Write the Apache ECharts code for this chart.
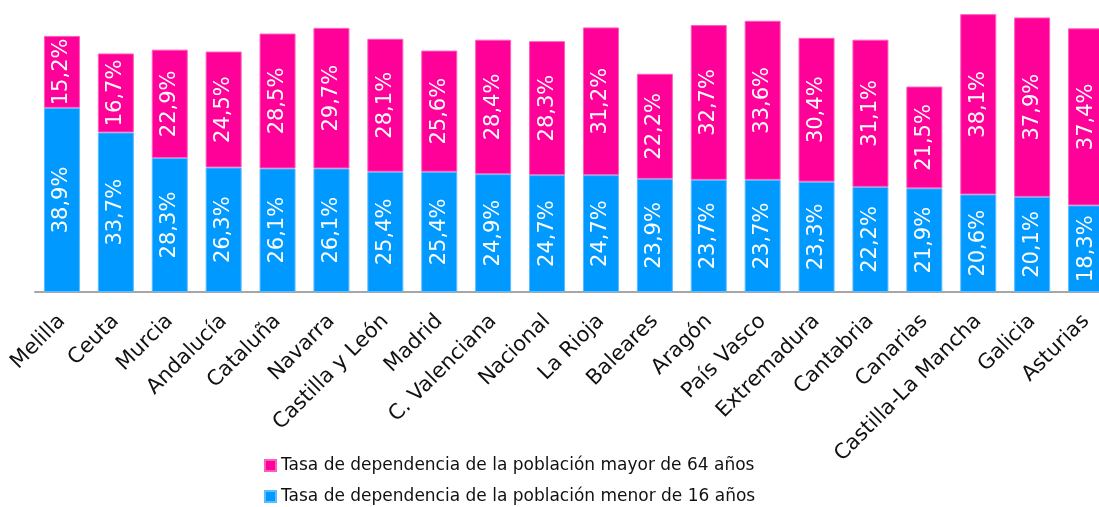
<!DOCTYPE html>
<html>
<head>
<meta charset="utf-8">
<script src="https://cdn.jsdelivr.net/npm/echarts@6/dist/echarts.min.js"></script>
<style>
  html, body { margin: 0; padding: 0; background: #fff; }
  #chart { width: 1099px; height: 507px; }
</style>
</head>
<body>
<div id="chart"></div>
<script>
const regiones = ['Melilla', 'Ceuta', 'Murcia', 'Andalucía', 'Cataluña', 'Navarra', 'Castilla y León', 'Madrid',
  'C. Valenciana', 'Nacional', 'La Rioja', 'Baleares', 'Aragón', 'País Vasco', 'Extremadura', 'Cantabria',
  'Canarias', 'Castilla-La Mancha', 'Galicia', 'Asturias']
const menor16 = [38.9, 33.7, 28.3, 26.3, 26.1, 26.1, 25.4, 25.4, 24.9, 24.7, 24.7, 23.9, 23.7, 23.7, 23.3, 22.2, 21.9, 20.6, 20.1, 18.3]
const mayor64 = [15.2, 16.7, 22.9, 24.5, 28.5, 29.7, 28.1, 25.6, 28.4, 28.3, 31.2, 22.2, 32.7, 33.6, 30.4, 31.1, 21.5, 38.1, 37.9, 37.4]

const nombreMenor = 'Tasa de dependencia de la población menor de 16 años'
const nombreMayor = 'Tasa de dependencia de la población mayor de 64 años'

const fmt = (p) => p.value.toFixed(1).replace('.', ',') + '%'

const barLabel = {
  show: true,
  position: 'inside',
  rotate: 90,
  color: '#fff',
  fontFamily: 'DejaVu Sans',
  fontSize: 21,
  formatter: fmt
}

const chart = echarts.init(document.getElementById('chart'))
chart.setOption({
  animation: false,
  backgroundColor: '#fff',
  textStyle: { fontFamily: 'DejaVu Sans' },
  // the plot runs past the right edge in the original, so no clamping
  grid: { left: 35, top: 8, width: 1078, height: 284, outerBoundsMode: 'none' },
  legend: {
    orient: 'vertical',
    left: 264,
    top: 457,
    height: 50,
    padding: 0,
    itemWidth: 11,
    itemHeight: 11,
    itemGap: 14,
    icon: 'rect',
    data: [nombreMayor, nombreMenor],
    textStyle: { fontSize: 17, color: '#111' }
  },
  xAxis: {
    type: 'category',
    data: regiones,
    axisLine: { lineStyle: { color: '#a6a6a6', width: 2 } },
    axisTick: { length: 7, lineStyle: { color: '#a6a6a6', width: 2 } },
    axisLabel: { rotate: 45, fontSize: 21, color: '#111', margin: 26, interval: 0 }
  },
  yAxis: {
    type: 'value',
    min: 0,
    max: 60,
    show: false,
    splitLine: { show: false }
  },
  series: [
    {
      name: nombreMenor,
      type: 'bar',
      stack: 'total',
      barWidth: 36,
      data: menor16,
      itemStyle: { color: '#0099ff', borderColor: '#5cbcff', borderWidth: 1 },
      label: barLabel
    },
    {
      name: nombreMayor,
      type: 'bar',
      stack: 'total',
      barWidth: 36,
      data: mayor64,
      itemStyle: { color: '#ff0099', borderColor: '#ff5cbc', borderWidth: 1 },
      label: barLabel
    }
  ]
})
</script>
</body>
</html>
